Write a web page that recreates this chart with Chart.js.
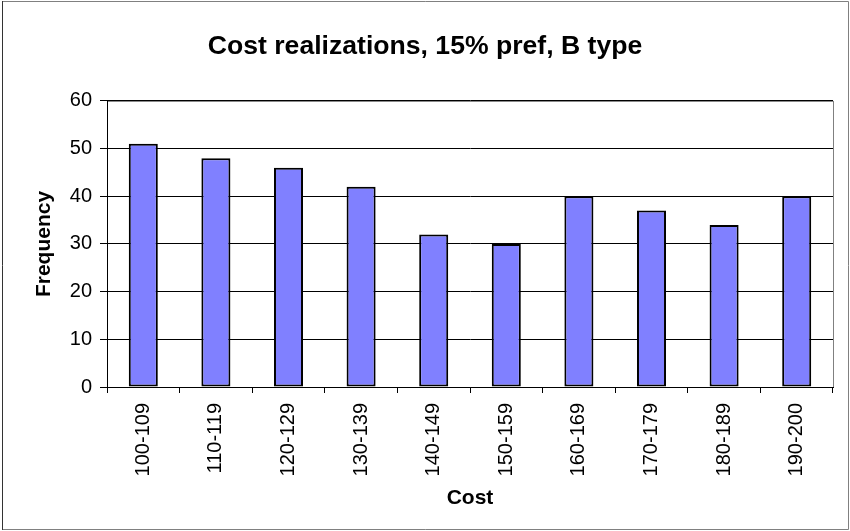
<!DOCTYPE html>
<html>
<head>
<meta charset="utf-8">
<script src="https://cdn.jsdelivr.net/npm/chart.js@4/dist/chart.umd.min.js"></script>
<style>
  html, body { margin: 0; padding: 0; background: #fff; }
  #wrap { width: 850px; height: 531px; position: relative; }
</style>
</head>
<body>
<div id="wrap"><canvas id="chart"></canvas></div>
<script>
// Data
const costBins = ['100-109', '110-119', '120-129', '130-139', '140-149',
                  '150-159', '160-169', '170-179', '180-189', '190-200'];
const frequencies = [51, 48, 46, 42, 32, 30, 40, 37, 34, 40];
const yTicks = [0, 10, 20, 30, 40, 50, 60];

const FONT = "'Liberation Sans', Arial, Helvetica, sans-serif";

// White background, chart frame and grey plot-area border (Excel look)
const framePlugin = {
    id: 'frame',
    beforeDraw(chart) {
        const { ctx, chartArea, width, height } = chart;
        ctx.save();
        ctx.fillStyle = '#fff';
        ctx.fillRect(0, 0, width, height);
        ctx.lineWidth = 1;
        ctx.strokeStyle = '#808080';
        ctx.beginPath();
        ctx.moveTo(2, 1.5); ctx.lineTo(width - 1.5, 1.5);
        ctx.lineTo(width - 1.5, height - 1.5); ctx.lineTo(2, height - 1.5);
        ctx.stroke();
        ctx.strokeStyle = '#333';
        ctx.beginPath();
        ctx.moveTo(2.5, 1); ctx.lineTo(2.5, height - 1);
        ctx.stroke();
        ctx.strokeStyle = '#808080';
        ctx.strokeRect(chartArea.left + 0.5, chartArea.top + 0.5,
                       chartArea.right - chartArea.left, chartArea.bottom - chartArea.top);
        ctx.restore();
    }
};

new Chart(document.getElementById('chart'), {
    type: 'bar',
    data: {
        labels: costBins,
        datasets: [{
            data: frequencies,
            backgroundColor: '#8080FF',
            borderColor: '#000',
            borderWidth: 2,
            borderSkipped: false,
            barPercentage: 0.4,
            categoryPercentage: 1.0
        }]
    },
    options: {
        responsive: true,
        maintainAspectRatio: false,
        animation: false,
        layout: { padding: 0 },
        plugins: {
            legend: { display: false },
            tooltip: { enabled: false },
            title: {
                display: true,
                text: 'Cost realizations, 15% pref, B type',
                color: '#000',
                font: { family: FONT, size: 26.6, weight: 'bold' },
                padding: { top: 31, bottom: 38 }
            }
        },
        scales: {
            x: {
                grid: {
                    offset: true,
                    drawOnChartArea: false,
                    drawTicks: true,
                    tickLength: 6,
                    color: '#000'
                },
                border: { color: '#000', width: 1 },
                ticks: {
                    color: '#000',
                    font: { family: FONT, size: 20 },
                    minRotation: 90,
                    maxRotation: 90,
                    padding: 10,
                    autoSkip: false
                },
                title: {
                    display: true,
                    text: 'Cost',
                    color: '#000',
                    font: { family: FONT, size: 21, weight: 'bold' },
                    padding: { top: 0, bottom: 20 }
                },
                afterFit(scale) { scale.height = 144; }
            },
            y: {
                min: 0,
                max: 60,
                afterBuildTicks(scale) { scale.ticks = yTicks.map(v => ({ value: v })); },
                grid: {
                    color: '#000',
                    lineWidth: 1,
                    drawTicks: true,
                    tickLength: 7
                },
                border: { color: '#000', width: 1 },
                ticks: {
                    color: '#000',
                    font: { family: FONT, size: 20 },
                    padding: 8
                },
                title: {
                    display: true,
                    text: 'Frequency',
                    color: '#000',
                    font: { family: FONT, size: 21, weight: 'bold' },
                    padding: { top: 32, bottom: 0 }
                },
                afterFit(scale) { scale.width = 107; }
            },
            // empty right-hand margin so the title centres on the whole chart
            yRight: {
                position: 'right',
                grid: { display: false },
                border: { display: false },
                ticks: { display: false },
                afterFit(scale) { scale.width = 17; }
            }
        }
    },
    plugins: [framePlugin]
});
</script>
</body>
</html>
